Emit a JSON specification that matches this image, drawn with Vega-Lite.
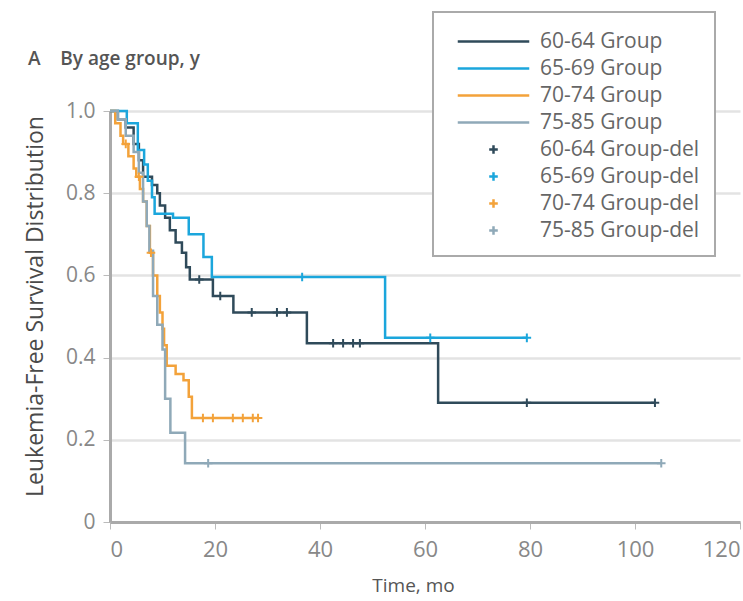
{
  "$schema": "https://vega.github.io/schema/vega-lite/v6.json",
  "width": 630,
  "height": 411,
  "autosize": "none",
  "padding": {"left": 110, "top": 111, "right": 3, "bottom": 79},
  "background": "white",
  "title": {"text": "A\u00a0\u00a0\u00a0\u00a0By age group, y", "anchor": "start", "frame": "group", "dx": -82, "offset": -58, "fontSize": 19, "fontWeight": 600, "color": "#555", "font": "Open Sans"},
  "datasets": {
    "curves": [
      {"t": 0, "s": 1.0, "label": "60-64 Group"}, {"t": 1.5, "s": 0.98, "label": "60-64 Group"}, {"t": 3, "s": 0.96, "label": "60-64 Group"}, {"t": 4.5, "s": 0.92, "label": "60-64 Group"}, {"t": 5.5, "s": 0.88, "label": "60-64 Group"}, {"t": 6.3, "s": 0.84, "label": "60-64 Group"}, {"t": 8, "s": 0.82, "label": "60-64 Group"}, {"t": 9, "s": 0.8, "label": "60-64 Group"}, {"t": 9.5, "s": 0.77, "label": "60-64 Group"}, {"t": 10.5, "s": 0.74, "label": "60-64 Group"}, {"t": 11.4, "s": 0.71, "label": "60-64 Group"}, {"t": 12.5, "s": 0.68, "label": "60-64 Group"}, {"t": 13.7, "s": 0.655, "label": "60-64 Group"}, {"t": 14.5, "s": 0.62, "label": "60-64 Group"}, {"t": 15.2, "s": 0.59, "label": "60-64 Group"}, {"t": 19.6, "s": 0.55, "label": "60-64 Group"}, {"t": 23.5, "s": 0.51, "label": "60-64 Group"}, {"t": 37.5, "s": 0.435, "label": "60-64 Group"}, {"t": 62.5, "s": 0.29, "label": "60-64 Group"}, {"t": 103.8, "s": 0.29, "label": "60-64 Group"},
      {"t": 0, "s": 1.0, "label": "65-69 Group"}, {"t": 3.2, "s": 0.97, "label": "65-69 Group"}, {"t": 5.3, "s": 0.905, "label": "65-69 Group"}, {"t": 6.5, "s": 0.87, "label": "65-69 Group"}, {"t": 7.2, "s": 0.83, "label": "65-69 Group"}, {"t": 8, "s": 0.79, "label": "65-69 Group"}, {"t": 8.5, "s": 0.75, "label": "65-69 Group"}, {"t": 12, "s": 0.74, "label": "65-69 Group"}, {"t": 15, "s": 0.7, "label": "65-69 Group"}, {"t": 17.8, "s": 0.645, "label": "65-69 Group"}, {"t": 19.4, "s": 0.596, "label": "65-69 Group"}, {"t": 52.4, "s": 0.448, "label": "65-69 Group"}, {"t": 79.4, "s": 0.448, "label": "65-69 Group"},
      {"t": 0, "s": 1.0, "label": "70-74 Group"}, {"t": 1, "s": 0.97, "label": "70-74 Group"}, {"t": 2, "s": 0.94, "label": "70-74 Group"}, {"t": 2.5, "s": 0.92, "label": "70-74 Group"}, {"t": 3.5, "s": 0.89, "label": "70-74 Group"}, {"t": 4.5, "s": 0.86, "label": "70-74 Group"}, {"t": 5, "s": 0.84, "label": "70-74 Group"}, {"t": 5.7, "s": 0.81, "label": "70-74 Group"}, {"t": 6.3, "s": 0.78, "label": "70-74 Group"}, {"t": 7, "s": 0.72, "label": "70-74 Group"}, {"t": 7.6, "s": 0.655, "label": "70-74 Group"}, {"t": 8.2, "s": 0.6, "label": "70-74 Group"}, {"t": 9, "s": 0.55, "label": "70-74 Group"}, {"t": 9.5, "s": 0.51, "label": "70-74 Group"}, {"t": 10, "s": 0.47, "label": "70-74 Group"}, {"t": 10.3, "s": 0.43, "label": "70-74 Group"}, {"t": 10.8, "s": 0.38, "label": "70-74 Group"}, {"t": 12.5, "s": 0.36, "label": "70-74 Group"}, {"t": 14, "s": 0.345, "label": "70-74 Group"}, {"t": 15, "s": 0.305, "label": "70-74 Group"}, {"t": 15.6, "s": 0.253, "label": "70-74 Group"}, {"t": 28.2, "s": 0.253, "label": "70-74 Group"},
      {"t": 0, "s": 1.0, "label": "75-85 Group"}, {"t": 1.5, "s": 0.98, "label": "75-85 Group"}, {"t": 3, "s": 0.94, "label": "75-85 Group"}, {"t": 4.5, "s": 0.9, "label": "75-85 Group"}, {"t": 5.5, "s": 0.85, "label": "75-85 Group"}, {"t": 6.3, "s": 0.78, "label": "75-85 Group"}, {"t": 7, "s": 0.72, "label": "75-85 Group"}, {"t": 7.5, "s": 0.66, "label": "75-85 Group"}, {"t": 8.2, "s": 0.55, "label": "75-85 Group"}, {"t": 9, "s": 0.48, "label": "75-85 Group"}, {"t": 10, "s": 0.42, "label": "75-85 Group"}, {"t": 10.5, "s": 0.3, "label": "75-85 Group"}, {"t": 11.5, "s": 0.217, "label": "75-85 Group"}, {"t": 14.3, "s": 0.143, "label": "75-85 Group"}, {"t": 105, "s": 0.143, "label": "75-85 Group"}
    ],
    "cens": [
      {"t": 17, "s": 0.59, "label": "60-64 Group-del"}, {"t": 21, "s": 0.55, "label": "60-64 Group-del"}, {"t": 27, "s": 0.51, "label": "60-64 Group-del"}, {"t": 31.8, "s": 0.51, "label": "60-64 Group-del"}, {"t": 33.7, "s": 0.51, "label": "60-64 Group-del"}, {"t": 42.5, "s": 0.435, "label": "60-64 Group-del"}, {"t": 44.4, "s": 0.435, "label": "60-64 Group-del"}, {"t": 46.3, "s": 0.435, "label": "60-64 Group-del"}, {"t": 47.6, "s": 0.435, "label": "60-64 Group-del"}, {"t": 79.4, "s": 0.29, "label": "60-64 Group-del"}, {"t": 103.8, "s": 0.29, "label": "60-64 Group-del"},
      {"t": 36.6, "s": 0.596, "label": "65-69 Group-del"}, {"t": 61, "s": 0.448, "label": "65-69 Group-del"}, {"t": 79.4, "s": 0.448, "label": "65-69 Group-del"},
      {"t": 3, "s": 0.92, "label": "70-74 Group-del"}, {"t": 5.5, "s": 0.84, "label": "70-74 Group-del"}, {"t": 7.8, "s": 0.655, "label": "70-74 Group-del"}, {"t": 17.7, "s": 0.253, "label": "70-74 Group-del"}, {"t": 19.6, "s": 0.253, "label": "70-74 Group-del"}, {"t": 23.4, "s": 0.253, "label": "70-74 Group-del"}, {"t": 25.3, "s": 0.253, "label": "70-74 Group-del"}, {"t": 27.2, "s": 0.253, "label": "70-74 Group-del"}, {"t": 28.2, "s": 0.253, "label": "70-74 Group-del"},
      {"t": 18.7, "s": 0.143, "label": "75-85 Group-del"}, {"t": 105, "s": 0.143, "label": "75-85 Group-del"}
    ]
  },
  "layer": [
    {
      "data": {"name": "curves"},
      "mark": {"type": "line", "interpolate": "step-after", "strokeWidth": 2.5},
      "encoding": {
        "x": {"field": "t", "type": "quantitative", "scale": {"domain": [0, 120]},
              "axis": {"values": [0, 20, 40, 60, 80, 100, 120], "grid": false, "title": "Time, mo", "titleFontSize": 19, "titleFontWeight": "normal", "titleColor": "#555", "titlePadding": 16, "titleX": 303, "labelFontSize": 22, "labelColor": "#888", "labelPadding": 10, "tickSize": 7, "tickColor": "#bbb", "domainColor": "#aaa", "domainWidth": 3, "labelFont": "Open Sans", "titleFont": "Open Sans"}},
        "y": {"field": "s", "type": "quantitative", "scale": {"domain": [0, 1]},
              "axis": {"values": [0, 0.2, 0.4, 0.6, 0.8, 1.0], "labelExpr": "datum.value == 0 ? '0' : format(datum.value, '.1f')", "grid": true, "gridColor": "#e3e3e3", "gridWidth": 2.5, "title": "Leukemia-Free Survival Distribution", "titleFontSize": 23, "titleFontWeight": "normal", "titleColor": "#4a4a4a", "titlePadding": 18, "titleY": 195, "labelFontSize": 21, "labelColor": "#888", "labelPadding": 8, "tickSize": 7, "tickColor": "#bbb", "domainColor": "#aaa", "domainWidth": 3, "labelFont": "Open Sans", "titleFont": "Open Sans"}},
        "color": {"field": "label", "type": "nominal",
                  "scale": {"domain": ["60-64 Group", "65-69 Group", "70-74 Group", "75-85 Group", "60-64 Group-del", "65-69 Group-del", "70-74 Group-del", "75-85 Group-del"],
                            "range": ["#2f4a5a", "#1ba6dc", "#f3a23a", "#8fa9b8", "#2f4a5a", "#1ba6dc", "#f3a23a", "#8fa9b8"]},
                  "legend": {"title": null}}
      }
    },
    {
      "data": {"name": "cens"},
      "mark": {"type": "point", "filled": false, "size": 676, "strokeWidth": 2, "opacity": 1},
      "encoding": {
        "x": {"field": "t", "type": "quantitative"},
        "y": {"field": "s", "type": "quantitative"},
        "color": {"field": "label", "type": "nominal"},
        "shape": {"field": "label", "type": "nominal",
                  "scale": {"domain": ["60-64 Group", "65-69 Group", "70-74 Group", "75-85 Group", "60-64 Group-del", "65-69 Group-del", "70-74 Group-del", "75-85 Group-del"],
                            "range": ["M-2.75,0H2.75", "M-2.75,0H2.75", "M-2.75,0H2.75", "M-2.75,0H2.75", "M-0.33,0H0.33M0,-0.33V0.33", "M-0.33,0H0.33M0,-0.33V0.33", "M-0.33,0H0.33M0,-0.33V0.33", "M-0.33,0H0.33M0,-0.33V0.33"]},
                  "legend": {"title": null}}
      }
    }
  ],
  "config": {
    "view": {"stroke": null},
    "legend": {"orient": "none", "legendX": 323, "legendY": -99, "strokeColor": "#aaa", "strokeWidth": 2, "fillColor": "white", "padding": 15, "labelFontSize": 21, "labelColor": "#666", "labelFont": "Open Sans", "symbolSize": 676, "symbolStrokeWidth": 2.5, "symbolOffset": 31, "labelOffset": 32, "rowPadding": 2, "labelLimit": 300}
  }
}
